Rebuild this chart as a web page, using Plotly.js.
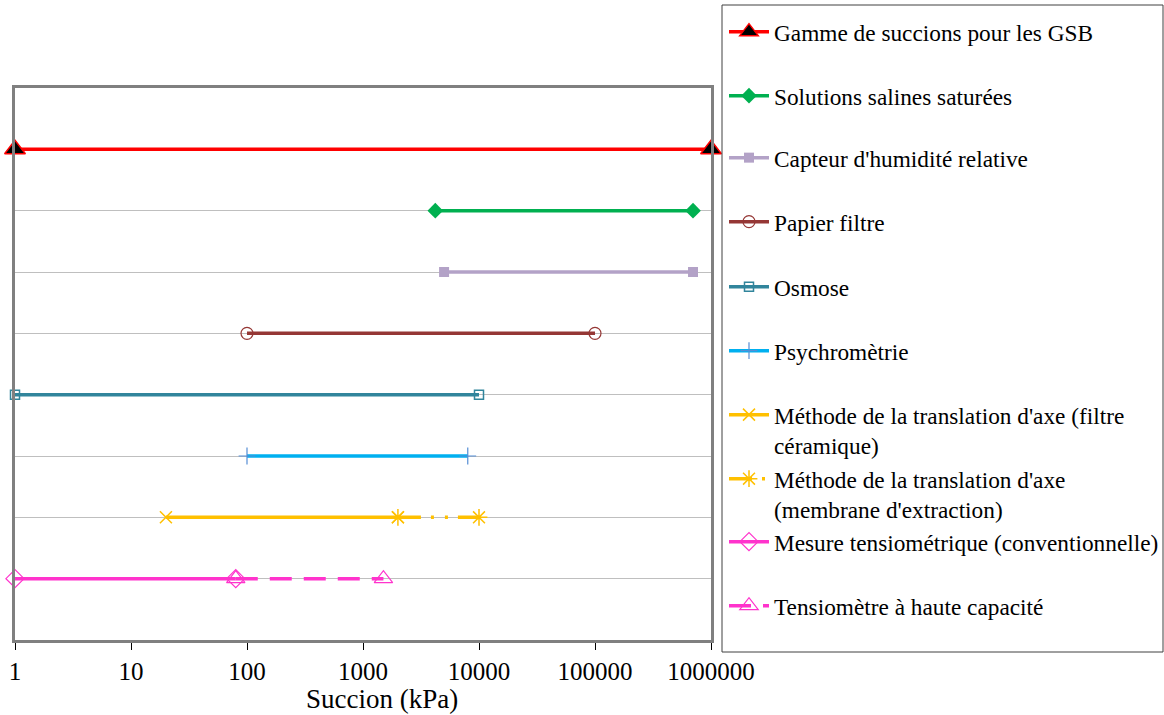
<!DOCTYPE html>
<html>
<head>
<meta charset="utf-8">
<script src="https://cdn.plot.ly/plotly-3.0.1.min.js"></script>
<style>html,body{margin:0;padding:0;background:#fff;}#chart{width:1164px;height:715px;}</style>
</head>
<body>
<div id="chart"></div>
<script>
// Series names (legend labels)
const seriesNames = [
  "Gamme de succions pour les GSB",
  "Solutions salines saturées",
  "Capteur d'humidité relative",
  "Papier filtre",
  "Osmose",
  "Psychromètrie",
  "Méthode de la translation d'axe (filtre<br>céramique)",
  "Méthode de la translation d'axe<br>(membrane d'extraction)",
  "Mesure tensiométrique (conventionnelle)",
  "Tensiomètre à haute capacité"
];
// Suction ranges (kPa): start / end of each method
const gsbX       = [1, 1000000];
const salineX    = [4200, 700000];
const capteurX   = [5000, 700000];
const papierX    = [100, 100000];
const osmoseX    = [1, 10000];
const psychroX   = [100, 8000];
const filtreX    = [20, 2000];
const membraneX  = [2000, 10000];
const tensioX    = [1, 80];
const hauteCapX  = [80, 1500];
// Row (category level) of each method
const rowLevels = [8, 7, 6, 5, 4, 3, 2, 2, 1, 1];
// X tick labels
const tickVals = [1, 10, 100, 1000, 10000, 100000, 1000000];
const tickText = ["1", "10", "100", "1000", "10000", "100000", "1000000"];
const xTitle = "Succion (kPa)";

const xs = [gsbX, salineX, capteurX, papierX, osmoseX, psychroX, filtreX, membraneX, tensioX, hauteCapX];

const styles = [
  {line:{color:'#FF0000', width:3.5}, marker:{symbol:'triangle-up', size:18, color:'#000000', line:{color:'#FF0000', width:1.5}}},
  {line:{color:'#00B050', width:3.5}, marker:{symbol:'diamond', size:12, color:'#00B050'}},
  {line:{color:'#B3A2C7', width:3.5}, marker:{symbol:'square', size:10, color:'#B3A2C7'}},
  {line:{color:'#953735', width:3.5}, marker:{symbol:'circle-open', size:12, color:'#953735', line:{width:1.2}}},
  {line:{color:'#31859C', width:3.5}, marker:{symbol:'square-open', size:9, color:'#31859C', line:{width:1.5}}},
  {line:{color:'#00B0F0', width:3.5}, marker:{symbol:'cross-thin-open', size:12, color:'#558ED5', line:{width:1.2}}},
  {line:{color:'#FFC000', width:3.5}, marker:{symbol:'x-thin-open', size:12, color:'#FFC000', line:{width:1.5}}},
  {line:{color:'#FFC000', width:3.5, dash:'23px,10px,3px,11px,3px,10px'}, marker:{symbol:'asterisk-open', size:14, color:'#FFC000', line:{width:1.5}}},
  {line:{color:'#FF33CC', width:3.5}, marker:{symbol:'diamond-open', size:14, color:'#FF33CC', line:{width:1.2}}},
  {line:{color:'#FF33CC', width:3.5, dash:'22px,12px'}, marker:{symbol:'triangle-up-open', size:16, color:'#FF33CC', line:{width:1.2}}}
];

// Legend entry vertical centres (pixels) and paper mapping
const plotTop = 88, plotBottom = 640, plotLeft = 15, plotRight = 711;
const legendCentersPx = [33, 97, 159, 223, 288, 352, 416, 480, 543, 607];
const pyPaper = p => (plotBottom - p) / (plotBottom - plotTop);
const pxPaper = p => (p - plotLeft) / (plotRight - plotLeft);

const traces = xs.map((x, i) => Object.assign({
  type: 'scatter', mode: 'lines+markers',
  x: x, y: x.map(() => rowLevels[i]),
  name: seriesNames[i],
  legend: i === 0 ? 'legend' : 'legend' + (i + 1),
  showlegend: true,
  cliponaxis: false
}, styles[i]));

const serif = 'Liberation Serif';
const legendFont = {family: serif, size: 23.3, color: '#000'};
const layout = {
  width: 1164, height: 715,
  showlegend: true,
  margin: {l: plotLeft, r: 1164 - plotRight, t: plotTop, b: 715 - plotBottom, autoexpand: false},
  paper_bgcolor: '#fff', plot_bgcolor: '#fff',
  font: {family: serif, size: 22, color: '#000'},
  xaxis: {
    type: 'log', range: [0, 6],
    tickvals: tickVals, ticktext: tickText,
    ticks: 'outside', ticklen: 7, tickcolor: '#000', tickwidth: 1,
    showgrid: false, zeroline: false,
    showline: true, mirror: true, linecolor: '#808080', linewidth: 3,
    tickfont: {family: serif, size: 25},
    automargin: false
  },
  yaxis: {
    range: [0, 9], dtick: 1, tick0: 0,
    showticklabels: false, ticks: '',
    showgrid: true, gridcolor: '#BFBFBF', gridwidth: 1,
    zeroline: false,
    showline: true, mirror: true, linecolor: '#808080', linewidth: 3,
    automargin: false
  },
  annotations: [{
    text: xTitle, xref: 'paper', yref: 'paper',
    x: pxPaper(382), y: pyPaper(699), xanchor: 'center', yanchor: 'middle',
    showarrow: false, font: {family: serif, size: 27, color: '#000'}
  }],
  shapes: [{
    type: 'rect', xref: 'paper', yref: 'paper',
    x0: pxPaper(722), x1: pxPaper(1163), y0: pyPaper(652), y1: pyPaper(5),
    line: {color: '#404040', width: 1}, fillcolor: 'rgba(0,0,0,0)'
  }]
};

legendCentersPx.forEach((c, i) => {
  const key = i === 0 ? 'legend' : 'legend' + (i + 1);
  layout[key] = {
    x: pxPaper(724), xanchor: 'left',
    y: pyPaper(c - 23), yanchor: 'top',
    bgcolor: 'rgba(0,0,0,0)', borderwidth: 0,
    font: legendFont, valign: 'top', itemwidth: 40,
    visible: true
  };
});

Plotly.newPlot('chart', traces, layout, {displayModeBar: false, staticPlot: true});
</script>
</body>
</html>
